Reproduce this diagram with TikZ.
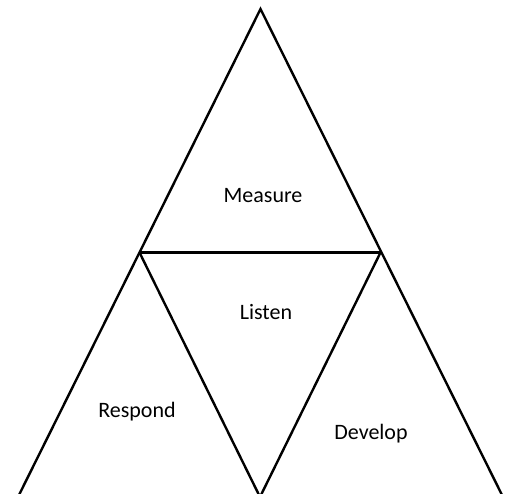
\documentclass[tikz,border=0pt]{standalone}
\usepackage{fontspec}
\setmainfont{Carlito}
\begin{document}
\begin{tikzpicture}[x=1pt,y=1pt,
  edge/.style={line width=2.4pt,black},
  lbl/.style={font=\fontsize{22}{26}\selectfont,inner sep=0pt}]
\useasboundingbox (0,0) rectangle (509,493);
\clip (0,0) rectangle (509,493);
\coordinate (apex) at (260.5,484);
\coordinate (lm) at (139.5,240.5);
\coordinate (rm) at (380.5,240.5);
\coordinate (bl) at (18,-4);
\coordinate (bm) at (260,-4);
\coordinate (br) at (503,-4);
\draw[edge] (bl) -- (apex) -- (br);
\draw[edge] (lm) -- (rm);
\draw[edge] (lm) -- (bm) -- (rm);
\node[lbl] (measure) at (263,297) {Measure};
\node[lbl] (listen) at (266,181) {Listen};
\node[lbl] (respond) at (137,81) {Respond};
\node[lbl] (develop) at (371,59) {Develop};
\end{tikzpicture}
\end{document}
